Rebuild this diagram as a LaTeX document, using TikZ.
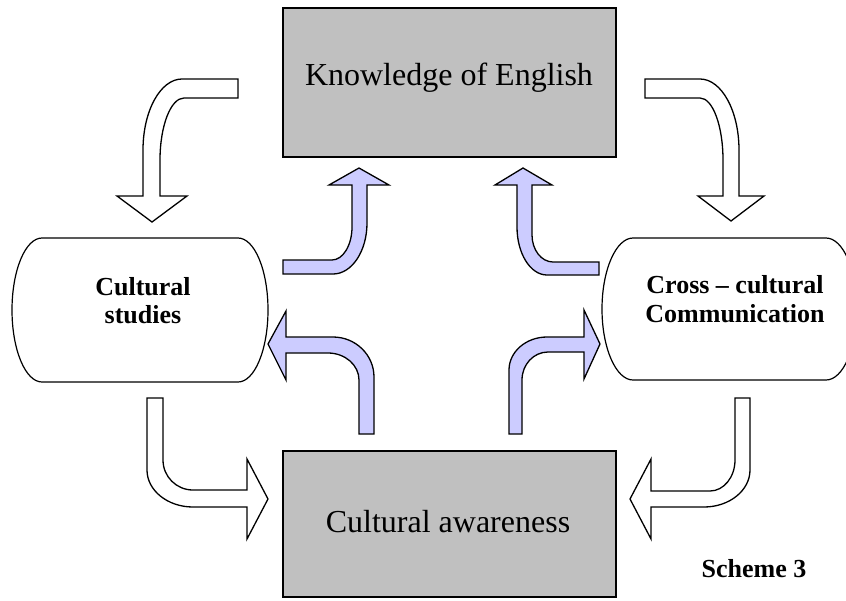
\documentclass[tikz,border=0pt]{standalone}
\usepackage{fontspec}
\setmainfont{Liberation Serif}
\definecolor{boxgray}{HTML}{C0C0C0}
\definecolor{arrowblue}{HTML}{CCCCFF}
\begin{document}
\begin{tikzpicture}[x=1pt,y=-1pt,
  gbox/.style={draw=black, line width=1.4pt, fill=boxgray, inner sep=0pt},
  roundbox/.style={draw=black, line width=1.2pt, fill=white},
  whitearrow/.style={draw=black, line width=1.3pt, fill=white, line join=miter},
  bluearrow/.style={draw=black, line width=1.3pt, fill=arrowblue, line join=miter},
  bigtext/.style={font=\fontsize{32}{38}\selectfont, inner sep=0pt},
  boldtext/.style={font=\fontsize{26}{30}\selectfont\bfseries, inner sep=0pt}]
\useasboundingbox (0,0) rectangle (846,600);

% grey boxes
\node[gbox, minimum width=333pt, minimum height=149pt] (kbox) at (449.5,82.5) {};
\node[bigtext, anchor=base] (ktext) at (449,85) {Knowledge of English};
\node[gbox, minimum width=333pt, minimum height=146pt] (abox) at (449.5,524) {};
\node[bigtext, anchor=base] (atext) at (448,532) {Cultural awareness};

% rounded shapes
\path[roundbox] (42,238) -- (238,238)
  .. controls (254.6,238) and (268,270.3) .. (268,310)
  .. controls (268,349.7) and (254.6,382) .. (238,382)
  -- (42,382)
  .. controls (25.4,382) and (12,349.7) .. (12,310)
  .. controls (12,270.3) and (25.4,238) .. (42,238) -- cycle;
\path[roundbox] (633,238) -- (826,238)
  .. controls (843.1,238) and (857,270.2) .. (857,309)
  .. controls (857,347.8) and (843.1,380) .. (826,380)
  -- (633,380)
  .. controls (615.9,380) and (602,347.8) .. (602,309)
  .. controls (602,270.2) and (615.9,238) .. (633,238) -- cycle;
\node[boldtext, anchor=base] (cs1) at (143,295) {Cultural};
\node[boldtext, anchor=base] (cs2) at (143,323) {studies};
\node[boldtext, anchor=base] (cc1) at (735,293) {Cross – cultural};
\node[boldtext, anchor=base] (cc2) at (735,322) {Communication};

% arrow 1: white, top-left, down
\path[whitearrow] (238,79) -- (182,79)
  .. controls (160.5,79) and (143,110.8) .. (143,150)
  -- (143,196) -- (117,196) -- (152,222) -- (187,196) -- (160,196)
  -- (160,160) .. controls (160,125.8) and (170.8,98) .. (184,98)
  -- (238,98) -- cycle;
% arrow 2: white, top-right, down
\path[whitearrow] (645,79) -- (700,79)
  .. controls (721.5,79) and (739,110.8) .. (739,150)
  -- (739,196) -- (764,196) -- (731,221) -- (698,196) -- (723,196)
  -- (723,160) .. controls (723,125.8) and (712.7,98) .. (700,98)
  -- (645,98) -- cycle;
% arrow 3: blue, up to top box (left)
\path[bluearrow] (283,260) -- (332,260)
  .. controls (343,260) and (352,245.2) .. (352,227)
  -- (352,185) -- (329,185) -- (359,168) -- (389,185) -- (367,185)
  -- (367,223) .. controls (367,251.2) and (351.8,274) .. (333,274)
  -- (283,274) -- cycle;
% arrow 4: blue, up to top box (right)
\path[bluearrow] (599,262) -- (553,262)
  .. controls (541.4,262) and (532,249.9) .. (532,235)
  -- (532,185) -- (552,185) -- (523,168) -- (495,185) -- (517,185)
  -- (517,227) .. controls (517,253.5) and (530.4,275) .. (547,275)
  -- (599,275) -- cycle;
% arrow 5: blue, left into cultural studies
\path[bluearrow] (268,344) -- (286,311) -- (286,337) -- (333,337)
  .. controls (355.6,337) and (374,354.9) .. (374,377)
  -- (374,434) -- (359,434) -- (359,380)
  .. controls (359,365.1) and (345.1,353) .. (328,353)
  -- (286,353) -- (286,380) -- cycle;
% arrow 6: blue, right into cross-cultural
\path[bluearrow] (600,344) -- (584,310) -- (584,337) -- (547,337)
  .. controls (526,337) and (509,351.8) .. (509,370)
  -- (509,434) -- (522,434) -- (522,380)
  .. controls (522,364.5) and (533.6,352) .. (548,352)
  -- (584,352) -- (584,379) -- cycle;
% arrow 7: white, bottom-left, right into awareness
\path[whitearrow] (147,398) -- (163,398) -- (163,460)
  .. controls (163,476.6) and (176.4,490) .. (193,490)
  -- (247,490) -- (247,459) -- (268,499) -- (247,539) -- (247,507)
  -- (193,507) .. controls (167.6,507) and (147,490.4) .. (147,470)
  -- cycle;
% arrow 8: white, bottom-right, left into awareness
\path[whitearrow] (735,398) -- (750,398) -- (750,470)
  .. controls (750,490.4) and (729.4,507) .. (704,507)
  -- (651,507) -- (651,539) -- (630,499) -- (651,459) -- (651,491)
  -- (710,491) .. controls (723.8,491) and (735,477.1) .. (735,460)
  -- cycle;

\node[boldtext, anchor=base] (scheme) at (754,577) {Scheme 3};
\end{tikzpicture}
\end{document}
